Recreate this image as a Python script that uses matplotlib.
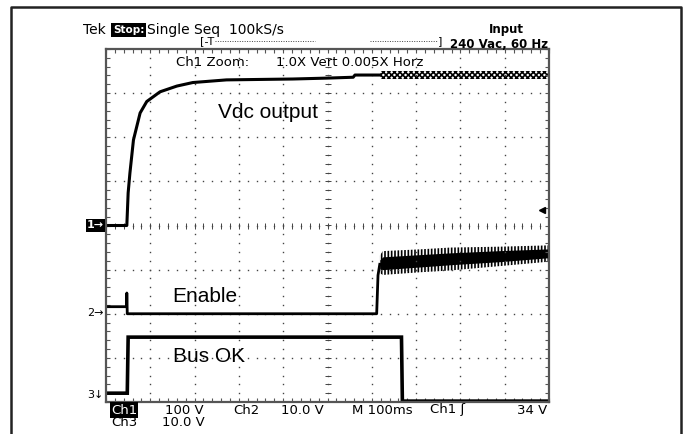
import numpy as np
import matplotlib.pyplot as plt
from matplotlib.lines import Line2D
from matplotlib.ticker import MultipleLocator

plt.rcParams['hatch.linewidth'] = 1.2

# 画面の寸法
W, H = 688, 434

# 各チャンネル設定 (V/div, グランド位置 div)
ch1_scale, ch1_offset = 100.0, 0.0
ch2_scale, ch2_offset = 10.0, -1.98
ch3_scale, ch3_offset = 10.0, -3.8
trig_level = 34.0

# Ch1: Vdc output [ms], [V]
vdc_t = [0, 47, 50, 54, 62, 77, 92, 122, 160, 196, 272, 422, 498, 558, 562, 618]
vdc_v = [0, 0, 74, 119, 194, 255, 281, 303, 316, 324, 330, 332, 334, 336, 341, 341]
# リップル帯
rip_t = [618, 700, 800, 900, 1000]
rip_hi = [350, 350, 350, 350, 350]
rip_lo = [332, 332, 332, 332, 332]

# Ch2: Enable
en_t = [0, 46.5, 47, 48, 611, 614, 618]
en_v = [1.4, 1.4, 4.5, -0.2, -0.2, 8.5, 11.0]
band_t = [618, 625, 709, 777, 889, 1000]
band_lo = [10.0, 9.8, 10.4, 10.9, 11.6, 12.5]
band_hi = [12.0, 12.7, 13.2, 13.6, 14.1, 14.5]
spike_lo = [9.0, 8.6, 9.2, 9.6, 10.6, 11.6]
spike_hi = [13.0, 14.0, 14.4, 14.8, 15.0, 15.3]

# Ch3: Bus OK
bus_t = [0, 48, 50, 667, 669, 1000]
bus_v = [0, 0, 12.7, 12.7, -1.8, -1.8]


def div(v, scale, offset):
    return np.asarray(v, dtype=float) / scale + offset


def fx(x):
    return x / W


def fy(y):
    return 1 - y / H


scope_font = ['DejaVu Sans']
label_font = ['Liberation Sans', 'DejaVu Sans']

fig = plt.figure(figsize=(W / 100, H / 100), dpi=100)

# 外枠
fig.add_artist(Line2D([fx(10.5), fx(10.5), fx(681), fx(681)],
                      [fy(440), fy(6.5), fy(6.5), fy(440)],
                      color='#222222', lw=1.8))

ax = fig.add_axes([fx(106), fy(402), 443 / W, 353 / H])
ax.set_xlim(0, 1000)
ax.set_ylim(-4, 4)
for s in ax.spines.values():
    s.set_color('#555555')
    s.set_linewidth(1.6)
ax.xaxis.set_major_locator(MultipleLocator(100))
ax.xaxis.set_minor_locator(MultipleLocator(20))
ax.yaxis.set_major_locator(MultipleLocator(1))
ax.yaxis.set_minor_locator(MultipleLocator(0.2))
ax.tick_params(which='both', direction='in', top=True, right=True,
               labelbottom=False, labelleft=False, color='#555555')
ax.tick_params(which='major', length=3, width=0.8)
ax.tick_params(which='minor', length=3, width=0.8)

# グリッド (点線)
minor_x = np.arange(0, 1001, 20)
minor_y = np.arange(-4, 4.01, 0.2)
for gx in range(100, 1000, 100):
    ax.plot(np.full_like(minor_y, gx), minor_y, ls='none', marker='s',
            ms=1.0, color='#444444', mew=0)
for gy in range(-3, 4):
    ax.plot(minor_x, np.full_like(minor_x, gy, dtype=float), ls='none',
            marker='s', ms=1.0, color='#444444', mew=0)
# 中心線の目盛り
ax.plot(minor_x, np.zeros_like(minor_x, dtype=float), ls='none', marker='|',
        ms=4, mew=0.7, color='#444444')
ax.plot(np.full_like(minor_y, 500), minor_y, ls='none', marker='_',
        ms=4, mew=0.7, color='#444444')

# 波形
ax.plot(vdc_t, div(vdc_v, ch1_scale, ch1_offset), color='black', lw=2.2,
        solid_joinstyle='round')
ax.fill_between(rip_t, div(rip_lo, ch1_scale, ch1_offset),
                div(rip_hi, ch1_scale, ch1_offset), facecolor='white',
                edgecolor='black', hatch='xxxxxx', lw=0)

ax.plot(en_t, div(en_v, ch2_scale, ch2_offset), color='black', lw=2.0)
ax.fill_between(band_t, div(spike_lo, ch2_scale, ch2_offset),
                div(spike_hi, ch2_scale, ch2_offset), facecolor='none',
                edgecolor='black', hatch='|||||', lw=0)
ax.fill_between(band_t, div(band_lo, ch2_scale, ch2_offset),
                div(band_hi, ch2_scale, ch2_offset), color='black', lw=0)

ax.plot(bus_t, div(bus_v, ch3_scale, ch3_offset), color='black', lw=2.6,
        solid_joinstyle='miter')

# トリガーレベル
ax.plot([985], [trig_level / ch1_scale + ch1_offset], marker='<', ms=4,
        color='black')

# 波形ラベル
ax.text(253, 2.57, 'Vdc output', fontsize=15, family=label_font, va='center')
ax.text(149, -1.62, 'Enable', fontsize=15, family=label_font, va='center')
ax.text(151, -2.96, 'Bus OK', fontsize=15, family=label_font, va='center')

# グランドマーカー
ax.text(-0.005, ch1_offset, '1→', transform=ax.get_yaxis_transform(),
        ha='right', va='center', fontsize=8, color='white',
        family=scope_font, fontweight='bold',
        bbox=dict(boxstyle='square,pad=0.1', fc='black', ec='none'))
ax.text(-0.005, ch2_offset, '2→', transform=ax.get_yaxis_transform(),
        ha='right', va='center', fontsize=8, family=scope_font)
ax.text(-0.005, ch3_offset - 0.05, '3↓', transform=ax.get_yaxis_transform(),
        ha='right', va='center', fontsize=8, family=scope_font)

# ズーム表示
fig.text(fx(176), fy(62), 'Ch1 Zoom:', fontsize=9.5, family=scope_font,
         va='center')
fig.text(fx(276), fy(62), '1.0X Vert 0.005X Horz', fontsize=9.5,
         family=scope_font, va='center')

# 上部ステータス
fig.text(fx(83), fy(30), 'Tek', fontsize=10, family=scope_font, va='center')
fig.text(fx(113), fy(30), 'Stop:', fontsize=7.5, family=scope_font,
         va='center', color='white', fontweight='bold',
         bbox=dict(boxstyle='square,pad=0.15', fc='black', ec='none'))
fig.text(fx(147), fy(30), 'Single Seq  100kS/s', fontsize=10,
         family=scope_font, va='center')
fig.text(fx(200), fy(41), '[-T', fontsize=8, family=scope_font, va='center')
fig.add_artist(Line2D([fx(215), fx(315)], [fy(41), fy(41)], color='#444444',
                      lw=0.7, ls=(0, (1, 1.5))))
fig.add_artist(Line2D([fx(370), fx(438)], [fy(41), fy(41)], color='#444444',
                      lw=0.7, ls=(0, (1, 1.5))))
fig.text(fx(438), fy(41), ']', fontsize=8, family=scope_font, va='center')
fig.text(fx(506), fy(30), 'Input', fontsize=8.5, family=scope_font,
         va='center', ha='center', fontweight='bold')
fig.text(fx(548), fy(44), '240 Vac, 60 Hz', fontsize=8.5, family=scope_font,
         va='center', ha='right', fontweight='bold')

# 下部ステータス
fig.text(fx(111), fy(410), 'Ch1', fontsize=9.5, family=scope_font, va='center',
         color='white',
         bbox=dict(boxstyle='square,pad=0.08', fc='black', ec='none'))
bottom_items = [(165, '100 V'), (233, 'Ch2'), (281, '10.0 V'),
                (352, 'M 100ms'), (430, 'Ch1 \u0283'), (517, '34 V')]
for x, s in bottom_items:
    fig.text(fx(x), fy(410), s, fontsize=9.5, family=scope_font, va='center')
fig.text(fx(111), fy(423), 'Ch3', fontsize=9.5, family=scope_font, va='center')
fig.text(fx(162), fy(423), '10.0 V', fontsize=9.5, family=scope_font,
         va='center')

fig.savefig('out.png', dpi=100)
